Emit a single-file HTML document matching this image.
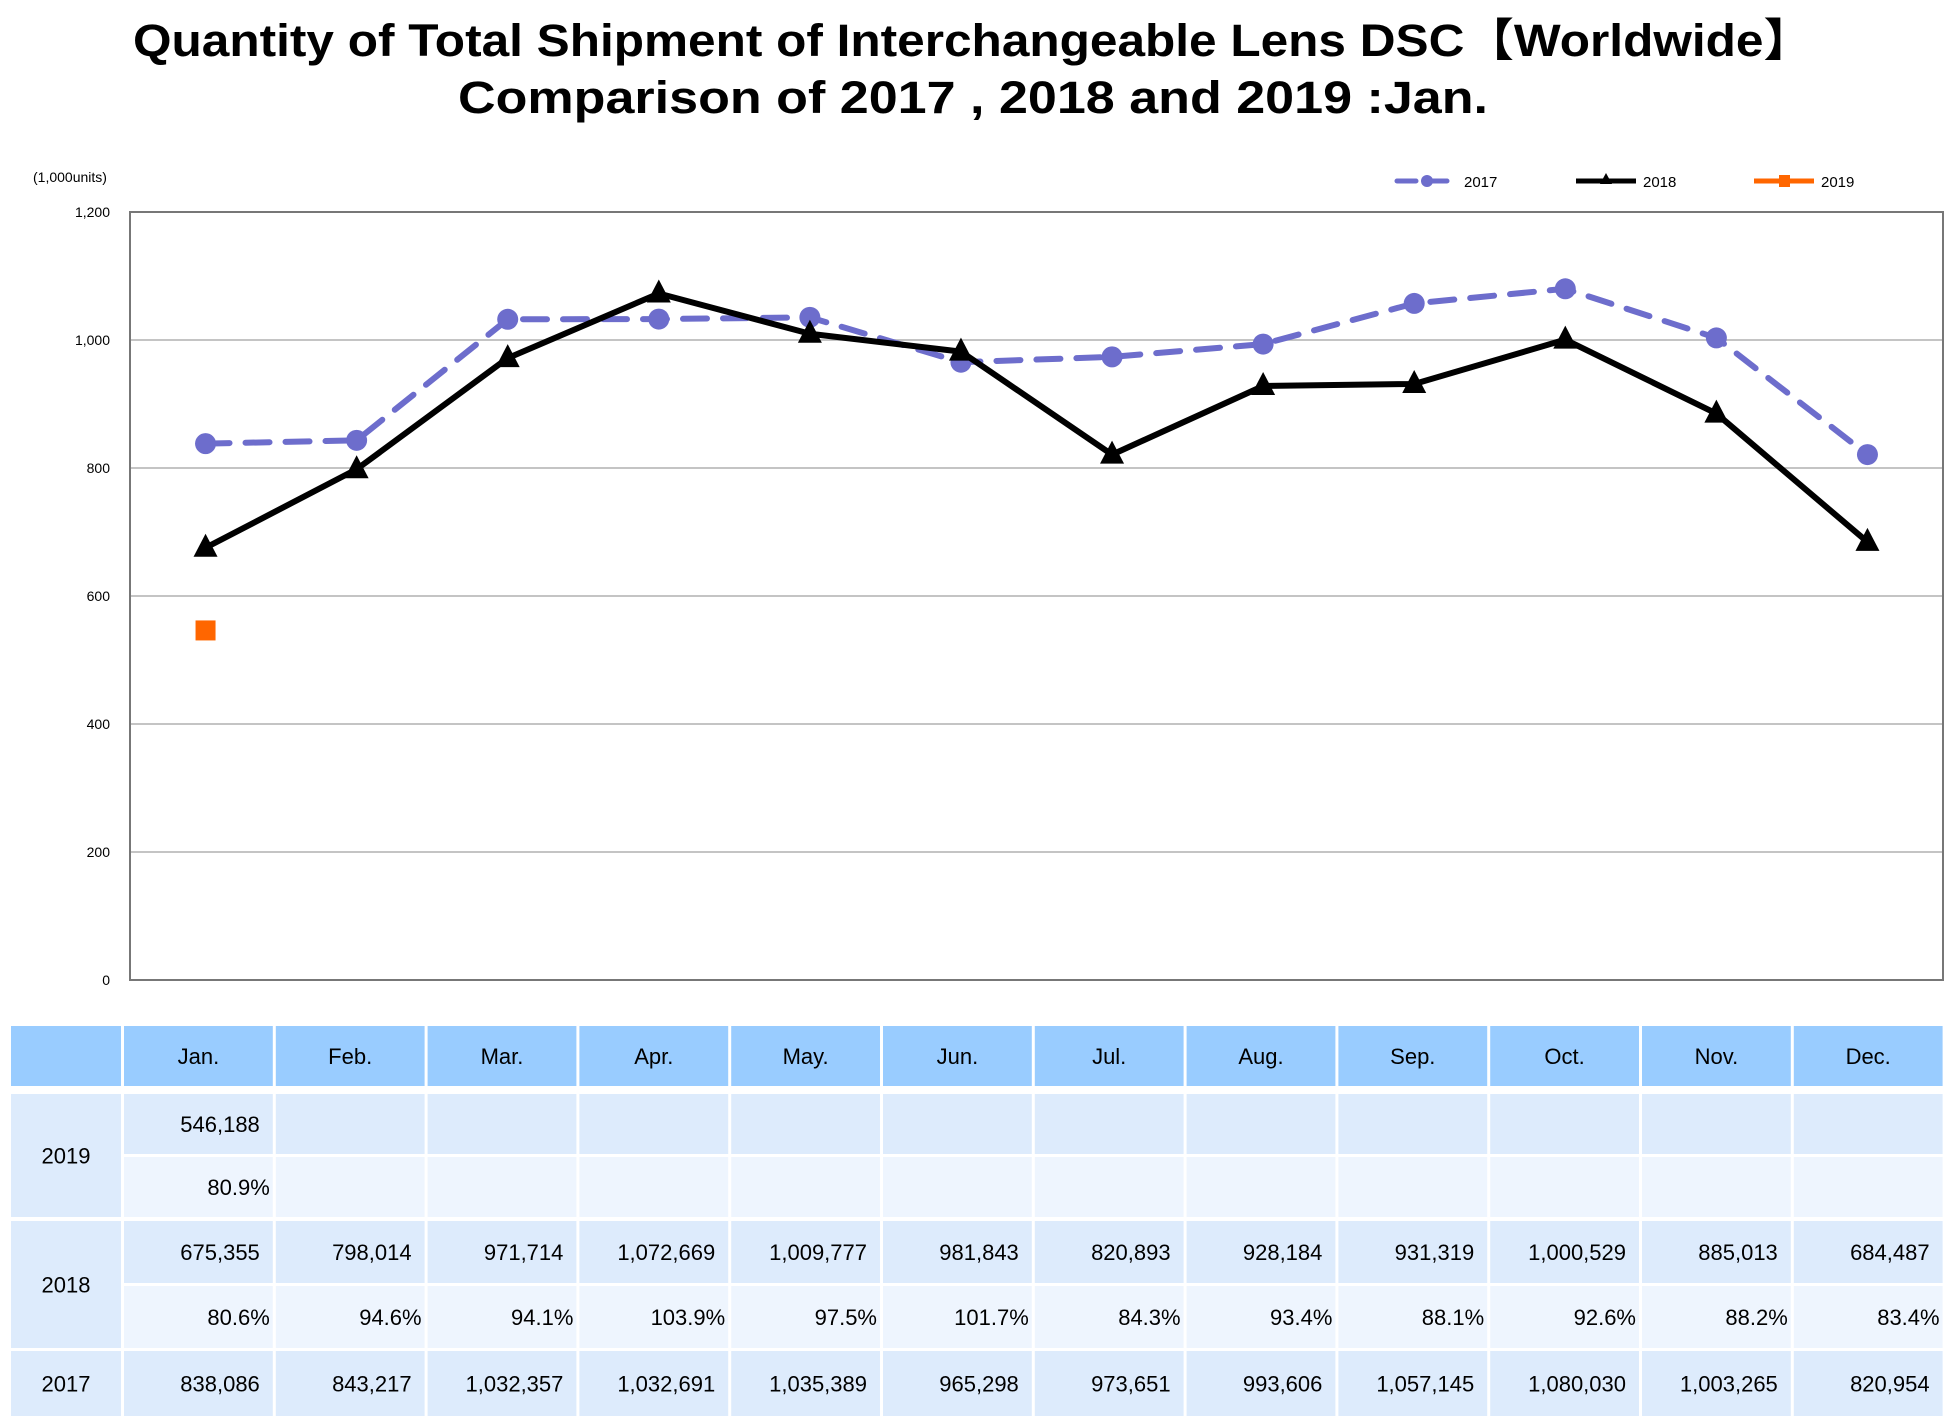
<!DOCTYPE html>
<html><head><meta charset="utf-8"><style>
body{margin:0;background:#fff;width:1946px;height:1416px;overflow:hidden}
svg text{font-family:"Liberation Sans","Noto Sans CJK JP",sans-serif}
</style></head><body>
<svg id="c" width="1946" height="1416" xmlns="http://www.w3.org/2000/svg">
<text x="973" y="56" text-anchor="middle" font-size="45" font-weight="bold" textLength="1680" lengthAdjust="spacingAndGlyphs">Quantity of Total Shipment of Interchangeable Lens DSC【Worldwide】</text>
<text x="973" y="113" text-anchor="middle" font-size="45" font-weight="bold" textLength="1030" lengthAdjust="spacingAndGlyphs">Comparison of 2017 , 2018 and 2019 :Jan.</text>
<text x="33" y="182" font-size="14">(1,000units)</text>
<g id="grid"></g><g id="series"></g><g id="legend"></g><g id="table"></g>
</svg>
<script>
const months=["Jan.","Feb.","Mar.","Apr.","May.","Jun.","Jul.","Aug.","Sep.","Oct.","Nov.","Dec."];
const v2017=[838086,843217,1032357,1032691,1035389,965298,973651,993606,1057145,1080030,1003265,820954];
const v2018=[675355,798014,971714,1072669,1009777,981843,820893,928184,931319,1000529,885013,684487];
const v2019=[546188];
const p2018=["80.6%","94.6%","94.1%","103.9%","97.5%","101.7%","84.3%","93.4%","88.1%","92.6%","88.2%","83.4%"];
const p2019=["80.9%"];
const yTicks=[0,200,400,600,800,1000,1200];
const NS="http://www.w3.org/2000/svg";
const L=130,R=1943,T=212,B=980,YMAX=1200;
const bw=(R-L)/months.length;
const x=i=>L+bw*(i+0.5);
const y=v=>B-(v/1000)/YMAX*(B-T);
function mk(t,a,p){const e=document.createElementNS(NS,t);for(const k in a)e.setAttribute(k,a[k]);p.appendChild(e);return e;}
const fmt=n=>n.toLocaleString('en-US');
const grid=document.getElementById('grid');
yTicks.forEach(t=>{
  const yy=B-t/YMAX*(B-T);
  if(t>0&&t<YMAX){const l=mk('line',{x1:L,x2:R,y1:yy,y2:yy,stroke:'#b0b0b0','stroke-width':1.5},grid);
  
  }
  const tx=mk('text',{x:110,y:yy+5,'text-anchor':'end','font-size':14},grid);tx.textContent=fmt(t);
  
  
});
const fr=mk('rect',{x:L,y:T,width:R-L,height:B-T,fill:'none',stroke:'#777','stroke-width':2},grid);


const S=document.getElementById('series');
const pts=a=>a.map((v,i)=>x(i)+','+y(v)).join(' ');
const l17=mk('polyline',{points:pts(v2017),fill:'none',stroke:'#6d6dcc','stroke-width':6,'stroke-dasharray':'24,16','stroke-linecap':'round'},S);


v2017.forEach((v,i)=>{const c=mk('circle',{cx:x(i),cy:y(v),r:10.5,fill:'#6d6dcc'},S);

});
const l18=mk('polyline',{points:pts(v2018),fill:'none',stroke:'#000','stroke-width':6,'stroke-linejoin':'round'},S);


v2018.forEach((v,i)=>{const X=x(i),Y=y(v);const p=mk('polygon',{points:`${X},${Y-14} ${X-12},${Y+9} ${X+12},${Y+9}`,fill:'#000'},S);

});
v2019.forEach((v,i)=>{const r=mk('rect',{x:x(i)-10,y:y(v)-10,width:20,height:20,fill:'#ff6600'},S);

});
const LG=document.getElementById('legend');
[['2017',1397,'#6d6dcc'],['2018',1576,'#000'],['2019',1754,'#ff6600']].forEach(([n,lx,c])=>{
  const g=mk('g',{},LG);
  
  
  const ly=181;
  if(n==='2017'){mk('line',{x1:lx,x2:lx+60,y1:ly,y2:ly,stroke:c,'stroke-width':5,'stroke-dasharray':'19,12','stroke-linecap':'round'},g);mk('circle',{cx:lx+30,cy:ly,r:6,fill:c},g);}
  else if(n==='2018'){mk('line',{x1:lx,x2:lx+60,y1:ly,y2:ly,stroke:c,'stroke-width':5},g);mk('polygon',{points:`${lx+30},${ly-8} ${lx+24},${ly+3} ${lx+36},${ly+3}`,fill:c},g);}
  else {mk('line',{x1:lx,x2:lx+60,y1:ly,y2:ly,stroke:c,'stroke-width':5},g);mk('rect',{x:lx+25,y:ly-6,width:11,height:12,fill:c},g);}
  const t=mk('text',{x:lx+67,y:ly+6,'font-size':15},g);t.textContent=n;
});
// table
const TB=document.getElementById('table');
const c0=11,c0w=110,cx0=124,cw=151.8,gap=3;
function cell(xx,yy,w,h,fill,txt,anchor,name,fs){
  const r=mk('rect',{x:xx,y:yy,width:w,height:h,fill:fill},TB);
  
  
  if(txt!==undefined&&txt!==''){
    let tx=anchor==='middle'?xx+w/2:xx+w-(anchor==='pct'?3:13);
    const t=mk('text',{x:tx,y:yy+h/2+8,'text-anchor':anchor==='middle'?'middle':'end','font-size':22},TB);t.textContent=txt;
  }
}
const HD='#99ccff',D1='#ddebfc',D2='#eef5fe';
cell(c0,1026,c0w,60,HD,'','middle','table-header-corner');
months.forEach((m,i)=>cell(cx0+i*cw,1026,cw-gap,60,HD,m,'middle','table-header-'+i));
const rows=[[1094,60],[1157,60],[1221,62],[1286,62],[1351,65]];
cell(c0,1094,c0w,123,D1,'2019','middle','row-label-2019');
cell(c0,1221,c0w,127,D1,'2018','middle','row-label-2018');
cell(c0,1351,c0w,65,D1,'2017','middle','row-label-2017');
months.forEach((m,i)=>{
  const X=cx0+i*cw,W=cw-gap;
  cell(X,rows[0][0],W,rows[0][1],D1,v2019[i]!==undefined?fmt(v2019[i]):'','end','cell-2019-value-'+i);
  cell(X,rows[1][0],W,rows[1][1],D2,p2019[i]||'','pct','cell-2019-ratio-'+i);
  cell(X,rows[2][0],W,rows[2][1],D1,fmt(v2018[i]),'end','cell-2018-value-'+i);
  cell(X,rows[3][0],W,rows[3][1],D2,p2018[i],'pct','cell-2018-ratio-'+i);
  cell(X,rows[4][0],W,rows[4][1],D1,fmt(v2017[i]),'end','cell-2017-value-'+i);
});
</script>
</body></html>
